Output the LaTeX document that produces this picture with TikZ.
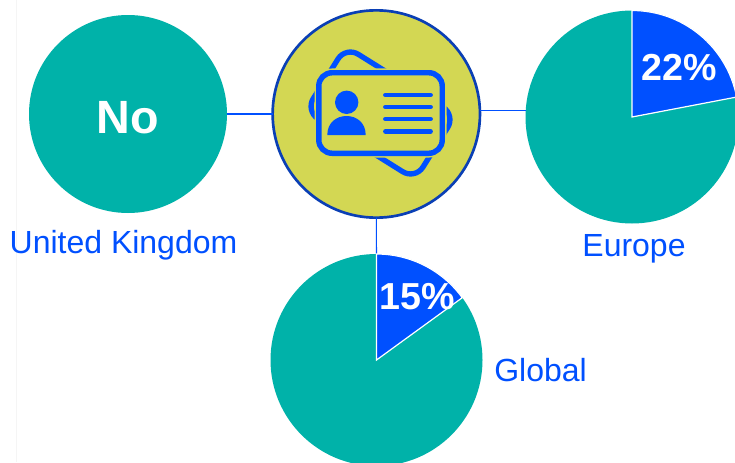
\documentclass[tikz,border=0pt]{standalone}
\usepackage{fontspec}
\setmainfont{Liberation Sans}
\definecolor{teal1}{HTML}{00B2A9}
\definecolor{blue1}{HTML}{0050FF}
\definecolor{yellow1}{HTML}{D3D753}
\definecolor{ring1}{HTML}{0A3FB5}
\tikzset{
  disc/.style={circle,fill=teal1,draw=none,inner sep=0pt,outer sep=0pt},
  slice/.style={fill=blue1,draw=white,line width=0.9,line join=miter},
  link/.style={draw=blue1,line width=0.8},
  lab/.style={text=blue1,anchor=base,inner sep=0pt,font=\fontsize{24pt}{28pt}\selectfont},
  big/.style={text=white,anchor=base,inner sep=0pt,font=\bfseries\fontsize{28.2pt}{32pt}\selectfont},
  cardline/.style={draw=blue1,line width=3.6,line cap=round},
}
\begin{document}
\begin{tikzpicture}[x=0.75pt,y=0.75pt,line width=0.75pt]
\path[use as bounding box] (0,0) rectangle (735,462);
\clip (0,0) rectangle (735,462);
\fill[white] (0,0) rectangle (735,462);
\draw[draw=black!4,line width=0.75pt] (16.5,0) -- (16.5,462);

\node[disc,minimum size=148.5pt] (uk) at (128,348) {};
\node[disc,minimum size=159.75pt] (eu) at (632,345) {};
\node[disc,minimum size=159pt] (gl) at (376.5,102) {};
\node[circle,fill=yellow1,draw=ring1,line width=2pt,minimum size=155.5pt,inner sep=0pt,outer sep=0pt] (id) at (376.3,348) {};

\draw[link] (uk.east) -- (id.west);
\draw[link] (id.2.2) -- (id.2.2 -| eu.176.2);
\draw[link] (id.south) -- (gl.north);

\draw[slice] (eu.center) -- (eu.north) arc[start angle=90,end angle=10.8,radius=106.5] -- cycle;
\draw[slice] (gl.center) -- (gl.north) arc[start angle=90,end angle=36,radius=106] -- cycle;

% card icon
\node[rectangle,draw=blue1,line width=4pt,rounded corners=11pt,minimum width=97pt,minimum height=57pt,rotate=-32,inner sep=0pt] (back) at (380.5,349) {};
\node[rectangle,draw=yellow1,line width=6.4pt,rounded corners=10pt,minimum width=92.6pt,minimum height=60.4pt,inner sep=0pt] (halo) at (380.5,349) {};
\node[rectangle,draw=blue1,fill=yellow1,line width=4.1pt,rounded corners=10pt,minimum width=92.6pt,minimum height=60.4pt,inner sep=0pt] (front) at (380.5,349) {};
\fill[blue1] (346.7,359.7) circle[radius=11.7];
\fill[blue1] (327.3,327) .. controls (327.3,339) and (336,346) .. (346.5,346) .. controls (357,346) and (365.7,339) .. (365.7,327) -- cycle;
\draw[cardline] (385.5,367) -- (430.5,367);
\draw[cardline] (385.5,355) -- (430.5,355);
\draw[cardline] (385.5,343) -- (430.5,343);
\draw[cardline] (385.5,330.7) -- (430.5,330.7);

\node[big,font=\bfseries\fontsize{35pt}{40pt}\selectfont] (notext) at (127.7,329) {No};
\node[big] (p22) at (679,382) {22\%};
\node[big] (p15) at (417,153) {15\%};
\node[lab] (uklab) at (123.5,209) {United Kingdom};
\node[lab] (eulab) at (634,206) {Europe};
\node[lab] (gllab) at (540.5,81) {Global};
\end{tikzpicture}
\end{document}
